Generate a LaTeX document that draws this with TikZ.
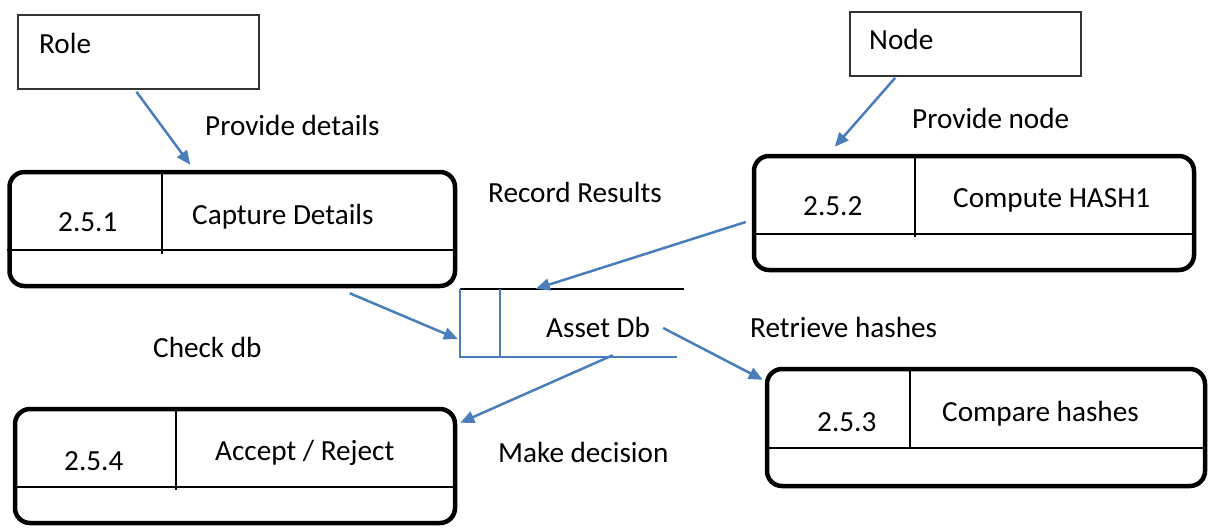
\documentclass[tikz,border=0pt]{standalone}
\usepackage{fontspec}
\setmainfont{Carlito}
\usetikzlibrary{arrows.meta,calc}
\definecolor{flow}{HTML}{4A7EBB}
\begin{document}
\begin{tikzpicture}[x=1pt,y=-1pt,
  lbl/.style={anchor=base west,inner sep=0pt,font=\fontsize{29.2}{35}\selectfont},
  procbox/.style={draw,line width=4.5pt,rounded corners=15pt,inner sep=0pt},
  extbox/.style={draw=black!80,line width=1.6pt,inner sep=0pt},
  divider/.style={line width=2pt},
  flowarrow/.style={draw=flow,line width=2.5pt,-{Triangle[length=14pt,width=12pt]}},
  storeline/.style={draw=flow,line width=2pt}]
\useasboundingbox (0,0) rectangle (1210,528);

% external entities
\node[extbox,minimum width=241pt,minimum height=74pt] (role) at (138.5,52) {};
\node[lbl] (roletxt) at (39,53) {Role};
\node[extbox,minimum width=231pt,minimum height=64pt] (nodebox) at (965.5,44) {};
\node[lbl] (nodetxt) at (869,49) {Node};

% process 2.5.1
\node[procbox,minimum width=445.5pt,minimum height=114pt] (p1) at (232.25,229) {};
\draw[divider] (162,172) -- (162,254);
\draw[divider] (p1.west |- 0,250) -- (p1.east |- 0,250);
\node[lbl] (p1id) at (58,231) {2.5.1};
\node[lbl] (p1name) at (192,224) {Capture Details};

% process 2.5.2
\node[procbox,minimum width=440pt,minimum height=114pt] (p2) at (974,213) {};
\draw[divider] (915,156) -- (915,237);
\draw[divider] (p2.west |- 0,234) -- (p2.east |- 0,234);
\node[lbl] (p2id) at (803,215) {2.5.2};
\node[lbl] (p2name) at (953,207) {Compute HASH1};

% process 2.5.3
\node[procbox,minimum width=438pt,minimum height=117pt] (p3) at (986,427.5) {};
\draw[divider] (910,369) -- (910,448);
\draw[divider] (p3.west |- 0,448) -- (p3.east |- 0,448);
\node[lbl] (p3id) at (817,431) {2.5.3};
\node[lbl] (p3name) at (942,421) {Compare hashes};

% process 2.5.4
\node[procbox,minimum width=440pt,minimum height=114pt] (p4) at (235,466) {};
\draw[divider] (176,409) -- (176,490);
\draw[divider] (p4.west |- 0,487) -- (p4.east |- 0,487);
\node[lbl] (p4id) at (64,470) {2.5.4};
\node[lbl] (p4name) at (215,460) {Accept / Reject};

% data store
\node[minimum width=224pt,minimum height=68pt,inner sep=0pt] (db) at (572,323) {};
\draw[line width=2pt] (db.north west) -- (db.north east);
\draw[storeline] (db.north west) -- (db.south west) -- ($(db.south east)+(-7,0)$);
\draw[storeline] ($(db.north west)+(40,0)$) -- ($(db.south west)+(40,0)$);
\node[lbl] (dbname) at (546,337) {Asset Db};

% flow labels
\node[lbl] (l1) at (205,135) {Provide details};
\node[lbl] (l2) at (912,128) {Provide node};
\node[lbl] (l3) at (488,202) {Record Results};
\node[lbl] (l4) at (153,357) {Check db};
\node[lbl] (l5) at (750,337) {Retrieve hashes};
\node[lbl] (l6) at (498,462) {Make decision};

% flows
\draw[flowarrow] ($(role.south)+(-2,2)$) -- ($(p1.north west)+(183,-5)$);
\draw[flowarrow] ($(nodebox.south west)+(46,1)$) -- ($(p2.north west)+(83,-7)$);
\draw[flowarrow] ($(p2.west)+(-6,9)$) -- ($(db.north west)+(76,0)$);
\draw[flowarrow] ($(p1.south west)+(342.5,5)$) -- ($(db.west)+(-2,16)$);
\draw[flowarrow] ($(dbname.base east)+(13,-9)$) -- ($(p3.north west)+(-2,13)$);
\draw[flowarrow] ($(db.south west)+(153,-2)$) -- ($(p4.north east)+(3,16)$);
\end{tikzpicture}
\end{document}
